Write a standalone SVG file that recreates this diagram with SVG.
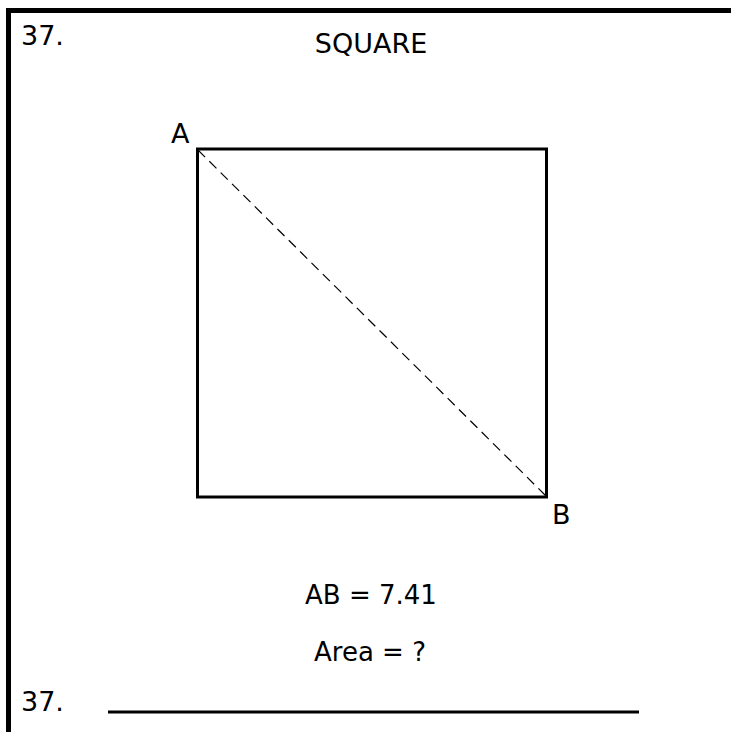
<svg xmlns="http://www.w3.org/2000/svg" width="731" height="732" viewBox="0 0 731 732">
<style>
.t{font-family:"DejaVu Sans",sans-serif;font-size:27px;fill:#000}
.s{font-size:26px}
.b{stroke:#000;fill:none}
</style>
<rect width="731" height="732" fill="#fff"/>
<g id="frame">
<path class="b" d="M8.5 732V10.5H731" stroke-width="5"/>
</g>
<text class="t" x="21" y="45">37.</text>
<text class="t" x="371" y="53" text-anchor="middle">SQUARE</text>
<g id="square">
<rect class="b" x="197.5" y="149" width="349" height="348" stroke-width="3"/>
</g>
<g id="connectors">
<line x1="198" y1="150" x2="546" y2="496" stroke="#000" stroke-width="1.2" stroke-dasharray="10,6"/>
</g>
<g id="labelA"><text class="t" x="171" y="143">A</text></g>
<g id="labelB"><text class="t" x="552" y="524">B</text></g>
<text class="t s" x="371" y="604" text-anchor="middle">AB = 7.41</text>
<text class="t s" x="370" y="661" text-anchor="middle">Area = ?</text>
<text class="t" x="21" y="711">37.</text>
<line x1="108" y1="712" x2="639" y2="712" stroke="#000" stroke-width="3"/>
</svg>
